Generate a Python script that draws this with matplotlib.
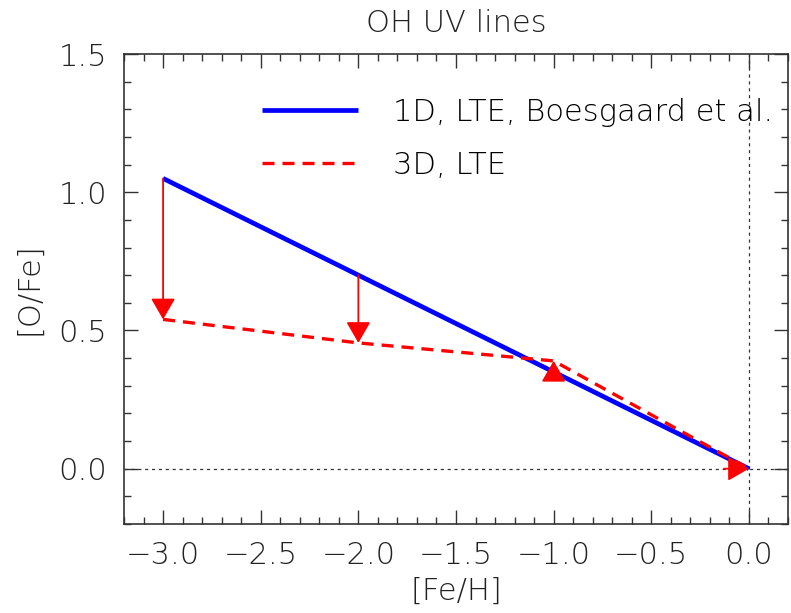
import numpy as np
import matplotlib
matplotlib.use('Agg')
import matplotlib.pyplot as plt
from matplotlib.ticker import MultipleLocator, FuncFormatter

plt.rcParams['font.family'] = ['DejaVu Sans']
plt.rcParams['font.weight'] = 200
plt.rcParams['axes.titleweight'] = 200
plt.rcParams['axes.labelweight'] = 200

# [Fe/H] grid and [O/Fe] from OH UV lines
feh = np.array([-3.0, -2.0, -1.0, 0.0])
ofe_1d = np.array([1.05, 0.70, 0.35, 0.0])   # 1D LTE, Boesgaard et al.
ofe_3d = np.array([0.54, 0.455, 0.39, 0.0])  # 3D LTE

label_1d = '1D, LTE, Boesgaard et al.'
label_3d = '3D, LTE'

fs = 22
red = '#ff0000'
blue = '#0000ff'
axcol = '#333333'

fig = plt.figure(figsize=(7.91, 6.13), dpi=100)
ax = fig.add_axes([0.1568, 0.1452, 0.8394, 0.7667])

ax.axhline(0, color=axcol, lw=0.9, ls=(0, (2.5, 3.0)), zorder=1)
ax.axvline(0, color=axcol, lw=0.9, ls=(0, (2.5, 3.0)), zorder=1)

ax.plot(feh, ofe_1d, color=blue, lw=3.4, solid_capstyle='butt', label=label_1d, zorder=2)
ax.plot(feh, ofe_3d, color=red, lw=2.4, dashes=(3.6, 2.4), label=label_3d, zorder=3)

# arrows from 1D to 3D values
for x, a, b in zip(feh, ofe_1d, ofe_3d):
    props = dict(arrowstyle='-|>,head_length=1.3,head_width=0.75', color=red,
                 lw=1.3, shrinkA=0, shrinkB=0, mutation_scale=10)
    if abs(b - a) < 1e-6:
        ax.annotate('', xy=(x, b), xytext=(-18, 0), textcoords='offset points',
                    arrowprops=props, zorder=4)
    else:
        ax.annotate('', xy=(x, b), xytext=(x, a), arrowprops=props, zorder=4)

fmt = FuncFormatter(lambda v, pos: ('%.1f' % v).replace('-', '\u2212'))

ax.set_xlim(-3.2, 0.2)
ax.set_ylim(-0.2, 1.5)
ax.xaxis.set_major_locator(MultipleLocator(0.5))
ax.xaxis.set_minor_locator(MultipleLocator(0.1))
ax.yaxis.set_major_locator(MultipleLocator(0.5))
ax.yaxis.set_minor_locator(MultipleLocator(0.1))
ax.xaxis.set_major_formatter(fmt)
ax.yaxis.set_major_formatter(fmt)
ax.tick_params(which='both', direction='in', top=True, right=True,
               color=axcol, width=1.0, labelsize=fs, labelcolor='#222222')
ax.tick_params(which='major', length=10)
ax.tick_params(which='minor', length=5)
ax.tick_params(axis='x', which='major', pad=12)
ax.tick_params(axis='y', which='major', pad=12)
for s in ax.spines.values():
    s.set_color(axcol)
    s.set_linewidth(1.2)

ax.set_xlabel('[Fe/H]', fontsize=fs, labelpad=5, color='#222222')
ax.set_ylabel('[O/Fe]', fontsize=fs, labelpad=11, color='#222222')
ax.set_title('OH UV lines', fontsize=fs, pad=16, color='#222222')

ax.legend(loc='upper left', bbox_to_anchor=(0.208, 0.907), frameon=False,
          fontsize=fs, handlelength=3.14, handletextpad=1.14, labelspacing=0.8,
          borderpad=0, borderaxespad=0)

fig.savefig('out.png', dpi=100)
